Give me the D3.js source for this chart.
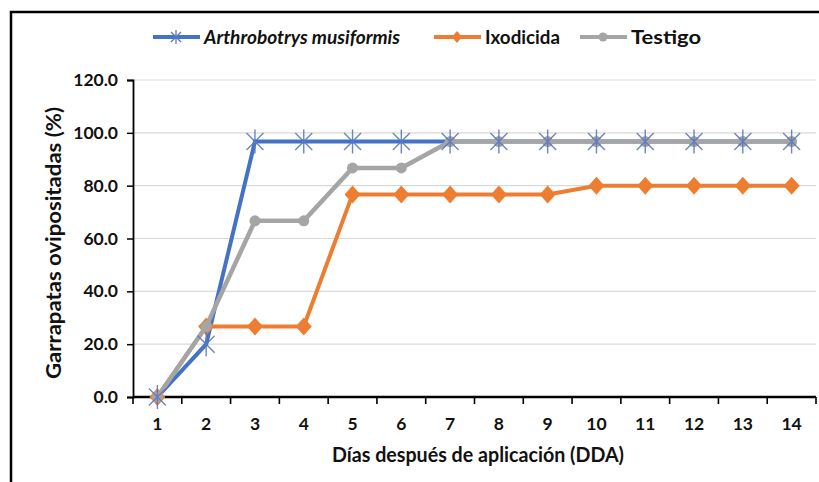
<!DOCTYPE html>
<meta charset="utf-8">
<script src="https://d3js.org/d3.v7.min.js"></script>
<style>
  body { margin: 0; background: white; }
  text { font-family: Lato, "Open Sans", sans-serif; }
</style>
<div id="chart"></div>
<script>
  // data
  var days = ["1","2","3","4","5","6","7","8","9","10","11","12","13","14"];
  var arthrobotrys = [0, 20.0, 96.7, 96.7, 96.7, 96.7, 96.7, 96.7, 96.7, 96.7, 96.7, 96.7, 96.7, 96.7];
  var ixodicida    = [0, 26.7, 26.7, 26.7, 76.7, 76.7, 76.7, 76.7, 76.7, 80.0, 80.0, 80.0, 80.0, 80.0];
  var testigo      = [0, 26.7, 66.7, 66.7, 86.7, 86.7, 96.7, 96.7, 96.7, 96.7, 96.7, 96.7, 96.7, 96.7];
  var yTicks = [0, 20, 40, 60, 80, 100, 120];
  var seriesNames = ["Arthrobotrys musiformis", "Ixodicida", "Testigo"];

  var width = 819, height = 482;
  var margin = {top: 80, right: 3, bottom: 85, left: 133};

  var svg = d3.select("#chart").append("svg")
    .attr("width", width)
    .attr("height", height);

  // outer frame
  svg.append("rect")
    .attr("x", 11).attr("y", 12)
    .attr("width", 830).attr("height", 500)
    .attr("fill", "none")
    .attr("stroke", "black")
    .attr("stroke-width", 2.5);

  var x = d3.scaleBand()
    .domain(days)
    .range([margin.left, width - margin.right]);

  var y = d3.scaleLinear()
    .domain([0, 120])
    .range([height - margin.bottom, margin.top]);

  // gridlines
  svg.append("g")
    .selectAll("line")
    .data(yTicks.filter(d => d > 0))
    .enter().append("line")
      .attr("x1", margin.left)
      .attr("x2", width - margin.right)
      .attr("y1", d => y(d))
      .attr("y2", d => y(d))
      .attr("stroke", "#d9d9d9")
      .attr("stroke-width", 1.2);

  // y axis
  var yAxis = svg.append("g")
    .attr("transform", "translate(" + margin.left + ",0)")
    .call(d3.axisLeft(y).tickValues(yTicks).tickFormat(d3.format(".1f")).tickSize(6).tickPadding(9));
  yAxis.select(".domain").attr("stroke-width", 1.8);
  yAxis.selectAll(".tick line").attr("stroke-width", 1.5);
  yAxis.selectAll("text")
    .attr("font-size", 17.5)
    .attr("font-weight", "bold")
    .attr("fill", "#111");

  // x axis: line with ticks between categories
  var xg = svg.append("g");
  xg.append("line")
    .attr("x1", margin.left).attr("x2", width - margin.right)
    .attr("y1", y(0)).attr("y2", y(0))
    .attr("stroke", "black").attr("stroke-width", 2.5);
  var bounds = days.map(d => x(d)).concat([x(days[days.length - 1]) + x.bandwidth()]);
  xg.selectAll(".tk")
    .data(bounds)
    .enter().append("line")
      .attr("x1", d => d).attr("x2", d => d)
      .attr("y1", y(0)).attr("y2", y(0) + 7)
      .attr("stroke", "black").attr("stroke-width", 1.6);
  xg.selectAll(".lbl")
    .data(days)
    .enter().append("text")
      .attr("x", d => x(d) + x.bandwidth() / 2)
      .attr("y", y(0) + 33)
      .attr("text-anchor", "middle")
      .attr("font-size", 17.5)
      .attr("font-weight", "bold")
      .attr("fill", "#111")
      .text(d => d);

  // axis titles
  svg.append("text")
    .attr("x", 478).attr("y", 462)
    .attr("text-anchor", "middle")
    .attr("font-size", 21)
    .attr("font-weight", "bold")
    .attr("fill", "#111")
    .attr("textLength", 292)
    .attr("lengthAdjust", "spacingAndGlyphs")
    .text("Días después de aplicación (DDA)");

  svg.append("text")
    .attr("transform", "translate(61,243) rotate(-90)")
    .attr("text-anchor", "middle")
    .attr("font-size", 21)
    .attr("font-weight", "bold")
    .attr("fill", "#111")
    .attr("textLength", 272)
    .attr("lengthAdjust", "spacingAndGlyphs")
    .text("Garrapatas ovipositadas (%)");

  var cx = (d, i) => x(days[i]) + x.bandwidth() / 2;
  var line = d3.line().x(cx).y(d => y(d));

  var blue = "#4472C4", orange = "#ED7D31", grey = "#A5A5A5";

  function starPath(s) {
    var r = s / 2;
    var a = r * 0.707;
    return "M" + (-r) + ",0L" + r + ",0" +
           "M" + (-a) + "," + (-a) + "L" + a + "," + a +
           "M" + (-a) + "," + a + "L" + a + "," + (-a);
  }

  // Arthrobotrys
  svg.append("path").datum(arthrobotrys)
    .attr("d", line).attr("fill", "none")
    .attr("stroke", blue).attr("stroke-width", 4);

  // Ixodicida
  svg.append("path").datum(ixodicida)
    .attr("d", line).attr("fill", "none")
    .attr("stroke", orange).attr("stroke-width", 4);
  svg.append("g").selectAll("path")
    .data(ixodicida)
    .enter().append("path")
      .attr("transform", (d, i) => "translate(" + cx(d, i) + "," + y(d) + ")")
      .attr("d", "M0,-9L8,0L0,9L-8,0Z")
      .attr("fill", orange);

  // Testigo
  svg.append("path").datum(testigo)
    .attr("d", line).attr("fill", "none")
    .attr("stroke", grey).attr("stroke-width", 4.5);
  svg.append("g").selectAll("circle")
    .data(testigo)
    .enter().append("circle")
      .attr("cx", cx).attr("cy", d => y(d))
      .attr("r", 5.5)
      .attr("fill", grey);

  // asterisks for Arthrobotrys
  svg.append("g").selectAll("path")
    .data(arthrobotrys)
    .enter().append("path")
      .attr("transform", (d, i) => "translate(" + cx(d, i) + "," + y(d) + ") rotate(90)")
      .attr("d", starPath(24))
      .attr("stroke", "#5b78c0")
      .attr("stroke-opacity", 0.9)
      .attr("stroke-width", 1.4)
      .attr("fill", "none");

  // legend
  var legend = [
    {name: seriesNames[0], color: blue, x: 153, italic: true, w: 196},
    {name: seriesNames[1], color: orange, x: 434, italic: false, w: 75},
    {name: seriesNames[2], color: grey, x: 580, italic: false, w: 70}
  ];
  var lg = svg.append("g").selectAll("g")
    .data(legend)
    .enter().append("g")
      .attr("transform", d => "translate(" + d.x + ",37)");
  lg.append("line")
    .attr("x1", 0).attr("x2", 47)
    .attr("stroke", d => d.color).attr("stroke-width", 4);
  lg.each(function(d, i) {
    var g = d3.select(this);
    if (i === 0) {
      g.append("path").attr("transform", "translate(23,0) rotate(90)")
        .attr("d", starPath(14)).attr("stroke", "#5b78c0").attr("stroke-width", 1.3);
    } else if (i === 1) {
      g.append("path").attr("transform", "translate(23,0)")
        .attr("d", "M0,-6L5,0L0,6L-5,0Z").attr("fill", orange);
    } else {
      g.append("circle").attr("cx", 23).attr("r", 4.5).attr("fill", grey);
    }
  });
  lg.append("text")
    .attr("x", 51).attr("y", 6.5)
    .attr("font-size", 18.5)
    .attr("font-weight", "bold")
    .attr("font-style", d => d.italic ? "italic" : "normal")
    .attr("fill", "#111")
    .attr("textLength", d => d.w)
    .attr("lengthAdjust", "spacingAndGlyphs")
    .text(d => d.name);
</script>
